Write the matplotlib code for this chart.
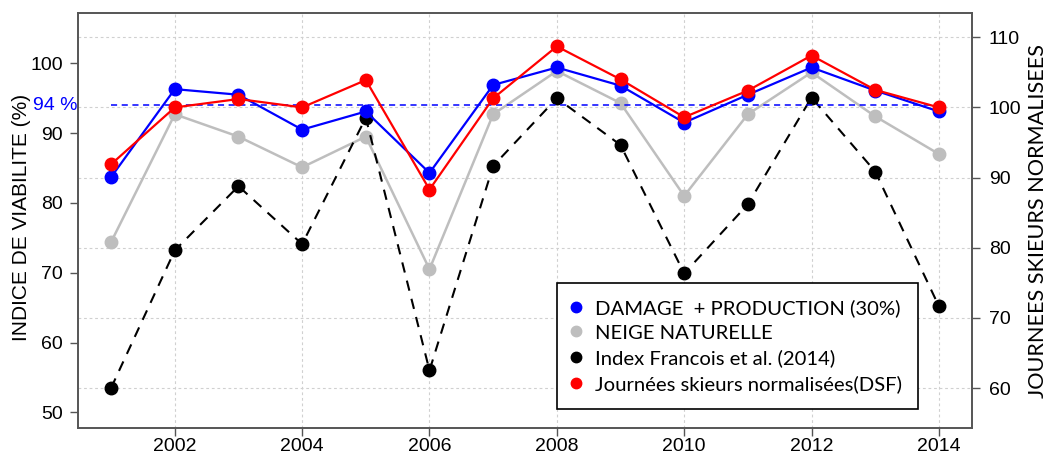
import matplotlib
matplotlib.use('Agg')
import matplotlib.pyplot as plt
from matplotlib.lines import Line2D

years = list(range(2001, 2015))
damage_prod = [83.7, 96.3, 95.5, 90.5, 93.1, 84.3, 96.9, 99.4, 96.8, 91.5, 95.5, 99.4, 96.1, 93.1]
neige_nat = [74.4, 92.7, 89.5, 85.1, 89.5, 70.5, 92.7, 98.9, 94.3, 81.0, 92.7, 98.7, 92.4, 87.0]
index_francois = [53.5, 73.2, 82.4, 74.1, 92.2, 56.0, 85.3, 95.0, 88.3, 69.9, 79.8, 95.1, 84.5, 65.2]
journees_dsf = [91.9, 100.0, 101.2, 100.0, 103.9, 88.3, 101.3, 108.7, 104.0, 98.6, 102.4, 107.4, 102.5, 100.0]
threshold = 94
threshold_label = "94 %"
xticks = [2002, 2004, 2006, 2008, 2010, 2012, 2014]
left_ticks = [50, 60, 70, 80, 90, 100]
right_ticks = [60, 70, 80, 90, 100, 110]
legend_labels = ["DAMAGE  + PRODUCTION (30%)", "NEIGE NATURELLE",
                 "Index Francois et al. (2014)", "Journées skieurs normalisées(DSF)"]
left_label = "INDICE DE VIABILITE (%)"
right_label = "JOURNEES SKIEURS NORMALISEES"

TICKFONT = 'Liberation Sans'
CALFONT = 'Lato'
spine_col = '#555555'
grid_col = '#d0d0d0'

fig = plt.figure(figsize=(10.51, 4.54), dpi=100)
ax = fig.add_axes([78/1051, 1-427.7/454, (972-78)/1051, (427.7-12.7)/454])
ax2 = ax.twinx()

ax.set_xlim(2000.48, 2014.52)
ax.set_ylim(47.8, 107.25)
ax2.set_ylim(54.36, 113.5)

# grid
for xt in xticks:
    ax.axvline(xt, color=grid_col, lw=0.8, ls=(0, (2.5, 2.5)), zorder=0)
for yt in right_ticks:
    ax.axhline(ax.transData.inverted().transform(ax2.transData.transform((0, yt)))[1],
               color=grid_col, lw=0.8, ls=(0, (2.5, 2.5)), zorder=0)

ms = 9
ax.plot(years, neige_nat, color='#bebebe', lw=1.8, marker='o', ms=ms, zorder=2)
ax.plot(years, index_francois, color='black', lw=1.5, ls=(0, (5, 4)), marker='o', ms=ms, zorder=3)
ax.plot(years, damage_prod, color='blue', lw=1.6, marker='o', ms=ms, zorder=4)
ax.plot([years[0], years[-1]], [threshold, threshold], color='blue', lw=1.1, ls=(0, (4, 3)), zorder=5)
ax2.plot(years, journees_dsf, color='red', lw=1.6, marker='o', ms=ms, zorder=4)

ax.text(2000.47, threshold, threshold_label, color='blue', ha='right', va='center',
        fontsize=14, family=TICKFONT, transform=ax.transData)

ax.set_xticks(xticks)
ax.set_xticklabels([str(x) for x in xticks], fontsize=14, family=TICKFONT)
ax.set_yticks(left_ticks)
ax.set_yticklabels([str(v) for v in left_ticks], fontsize=14, family=TICKFONT)
ax2.set_yticks(right_ticks)
ax2.set_yticklabels([str(v) for v in right_ticks], fontsize=14, family=TICKFONT)

for a in (ax, ax2):
    a.tick_params(direction='out', length=6, width=1, color=spine_col, pad=5)
    for s in a.spines.values():
        s.set_color(spine_col)
        s.set_linewidth(1.2)
ax.tick_params(axis='x', pad=1.5)
ax2.tick_params(pad=6)

fig.text(21.5/1051, 1-217/454, left_label, rotation=90, ha='center', va='center',
         fontsize=15, family=TICKFONT)
fig.text(1038/1051, 1-221.5/454, right_label, rotation=90, ha='center', va='center',
         fontsize=15.6, family=CALFONT)

handles = [Line2D([], [], marker='o', ls='none', color=c, ms=7.5)
           for c in ['blue', '#bebebe', 'black', 'red']]
leg = ax2.legend(handles, legend_labels, loc='lower left',
                 bbox_to_anchor=(0.5355, 0.045), borderaxespad=0,
                 prop={'family': CALFONT, 'size': 14.6}, frameon=True, fancybox=False,
                 framealpha=1, edgecolor='black', handlelength=0.3, handletextpad=0.79,
                 labelspacing=0.38, borderpad=0.8)
leg.get_frame().set_linewidth(1.2)

fig.savefig('out.png', dpi=100)
